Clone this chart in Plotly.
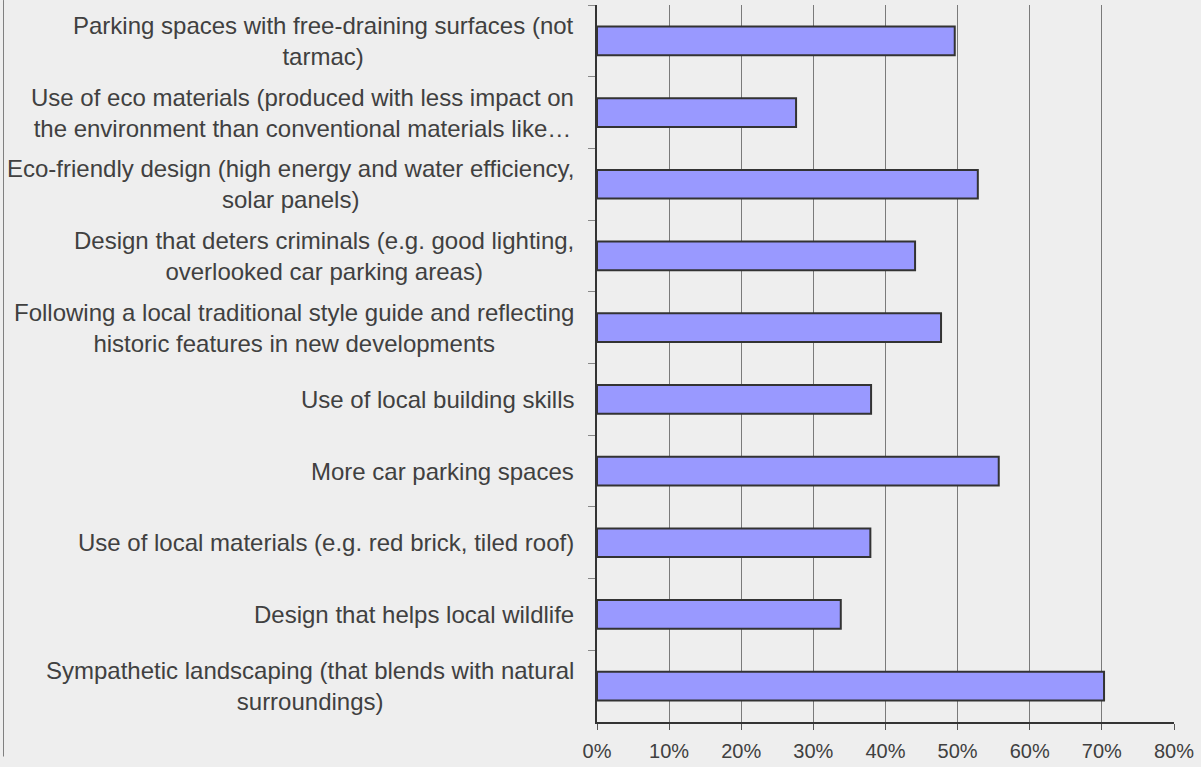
import plotly.graph_objects as go

categories = [
    "Parking spaces with free-draining surfaces (not<br>tarmac)",
    "Use of eco materials (produced with less impact on<br>the environment than conventional materials like…",
    "Eco-friendly design (high energy and water efficiency,<br>solar panels)",
    "Design that deters criminals (e.g. good lighting,<br>overlooked car parking areas)",
    "Following a local traditional style guide and reflecting<br>historic features in new developments",
    "Use of local building skills",
    "More car parking spaces",
    "Use of local materials (e.g. red brick, tiled roof)",
    "Design that helps local wildlife",
    "Sympathetic landscaping (that blends with natural<br>surroundings)",
]
values = [49.6, 27.6, 52.8, 44.1, 47.7, 38.0, 55.7, 37.9, 33.8, 70.3]
x_ticks = [0, 10, 20, 30, 40, 50, 60, 70, 80]

W, H = 1201, 767
L, R, T, B = 597, 27, 5, 35

fig = go.Figure()
fig.add_trace(go.Bar(
    x=values,
    y=categories,
    orientation="h",
    width=0.4,
    marker=dict(color="#9999FF", line=dict(color="#333333", width=2)),
    hoverinfo="x+y",
))

for cat in categories:
    fig.add_annotation(
        x=0, xref="paper", y=cat, yref="y",
        text=cat, showarrow=False,
        xanchor="right", yanchor="middle", align="center",
        xshift=-21, yshift=0,
        font=dict(family="Liberation Sans, Arial, sans-serif", size=24, color="#404040"),
    )

# left border of the chart frame
plot_w = W - L - R
plot_h = H - T - B
fig.add_shape(
    type="line", xref="paper", yref="paper",
    x0=(3.5 - L) / plot_w, x1=(3.5 - L) / plot_w,
    y0=(H - B - H) / plot_h, y1=(H - B) / plot_h,
    line=dict(color="#808080", width=1),
)

fig.update_layout(
    width=W, height=H,
    margin=dict(l=L, r=R, t=T, b=B, pad=0),
    paper_bgcolor="#EEEEEE",
    plot_bgcolor="#EEEEEE",
    showlegend=False,
    bargap=0.6,
    font=dict(family="Liberation Sans, Arial, sans-serif", color="#404040"),
)
fig.update_xaxes(
    range=[0, 80],
    tickvals=x_ticks,
    ticktext=[f"{v}%" for v in x_ticks],
    showgrid=True, gridcolor="#7A7A7A", gridwidth=1,
    zeroline=False,
    showline=True, linecolor="#333333", linewidth=1.5,
    ticks="outside", ticklen=6, tickcolor="#555555", tickwidth=1,
    ticklabelstandoff=4,
    tickfont=dict(size=20, color="#404040"),
)
fig.update_yaxes(
    autorange="reversed",
    showticklabels=False,
    showgrid=False,
    showline=True, linecolor="#333333", linewidth=1.5,
    ticks="outside", ticklen=7, tickcolor="#888888", tickwidth=1,
    tickson="boundaries",
)

fig.write_html(
    "out.html",
    config={"displayModeBar": False},
    post_script="document.body.style.margin='0';document.body.style.overflow='hidden';",
)
